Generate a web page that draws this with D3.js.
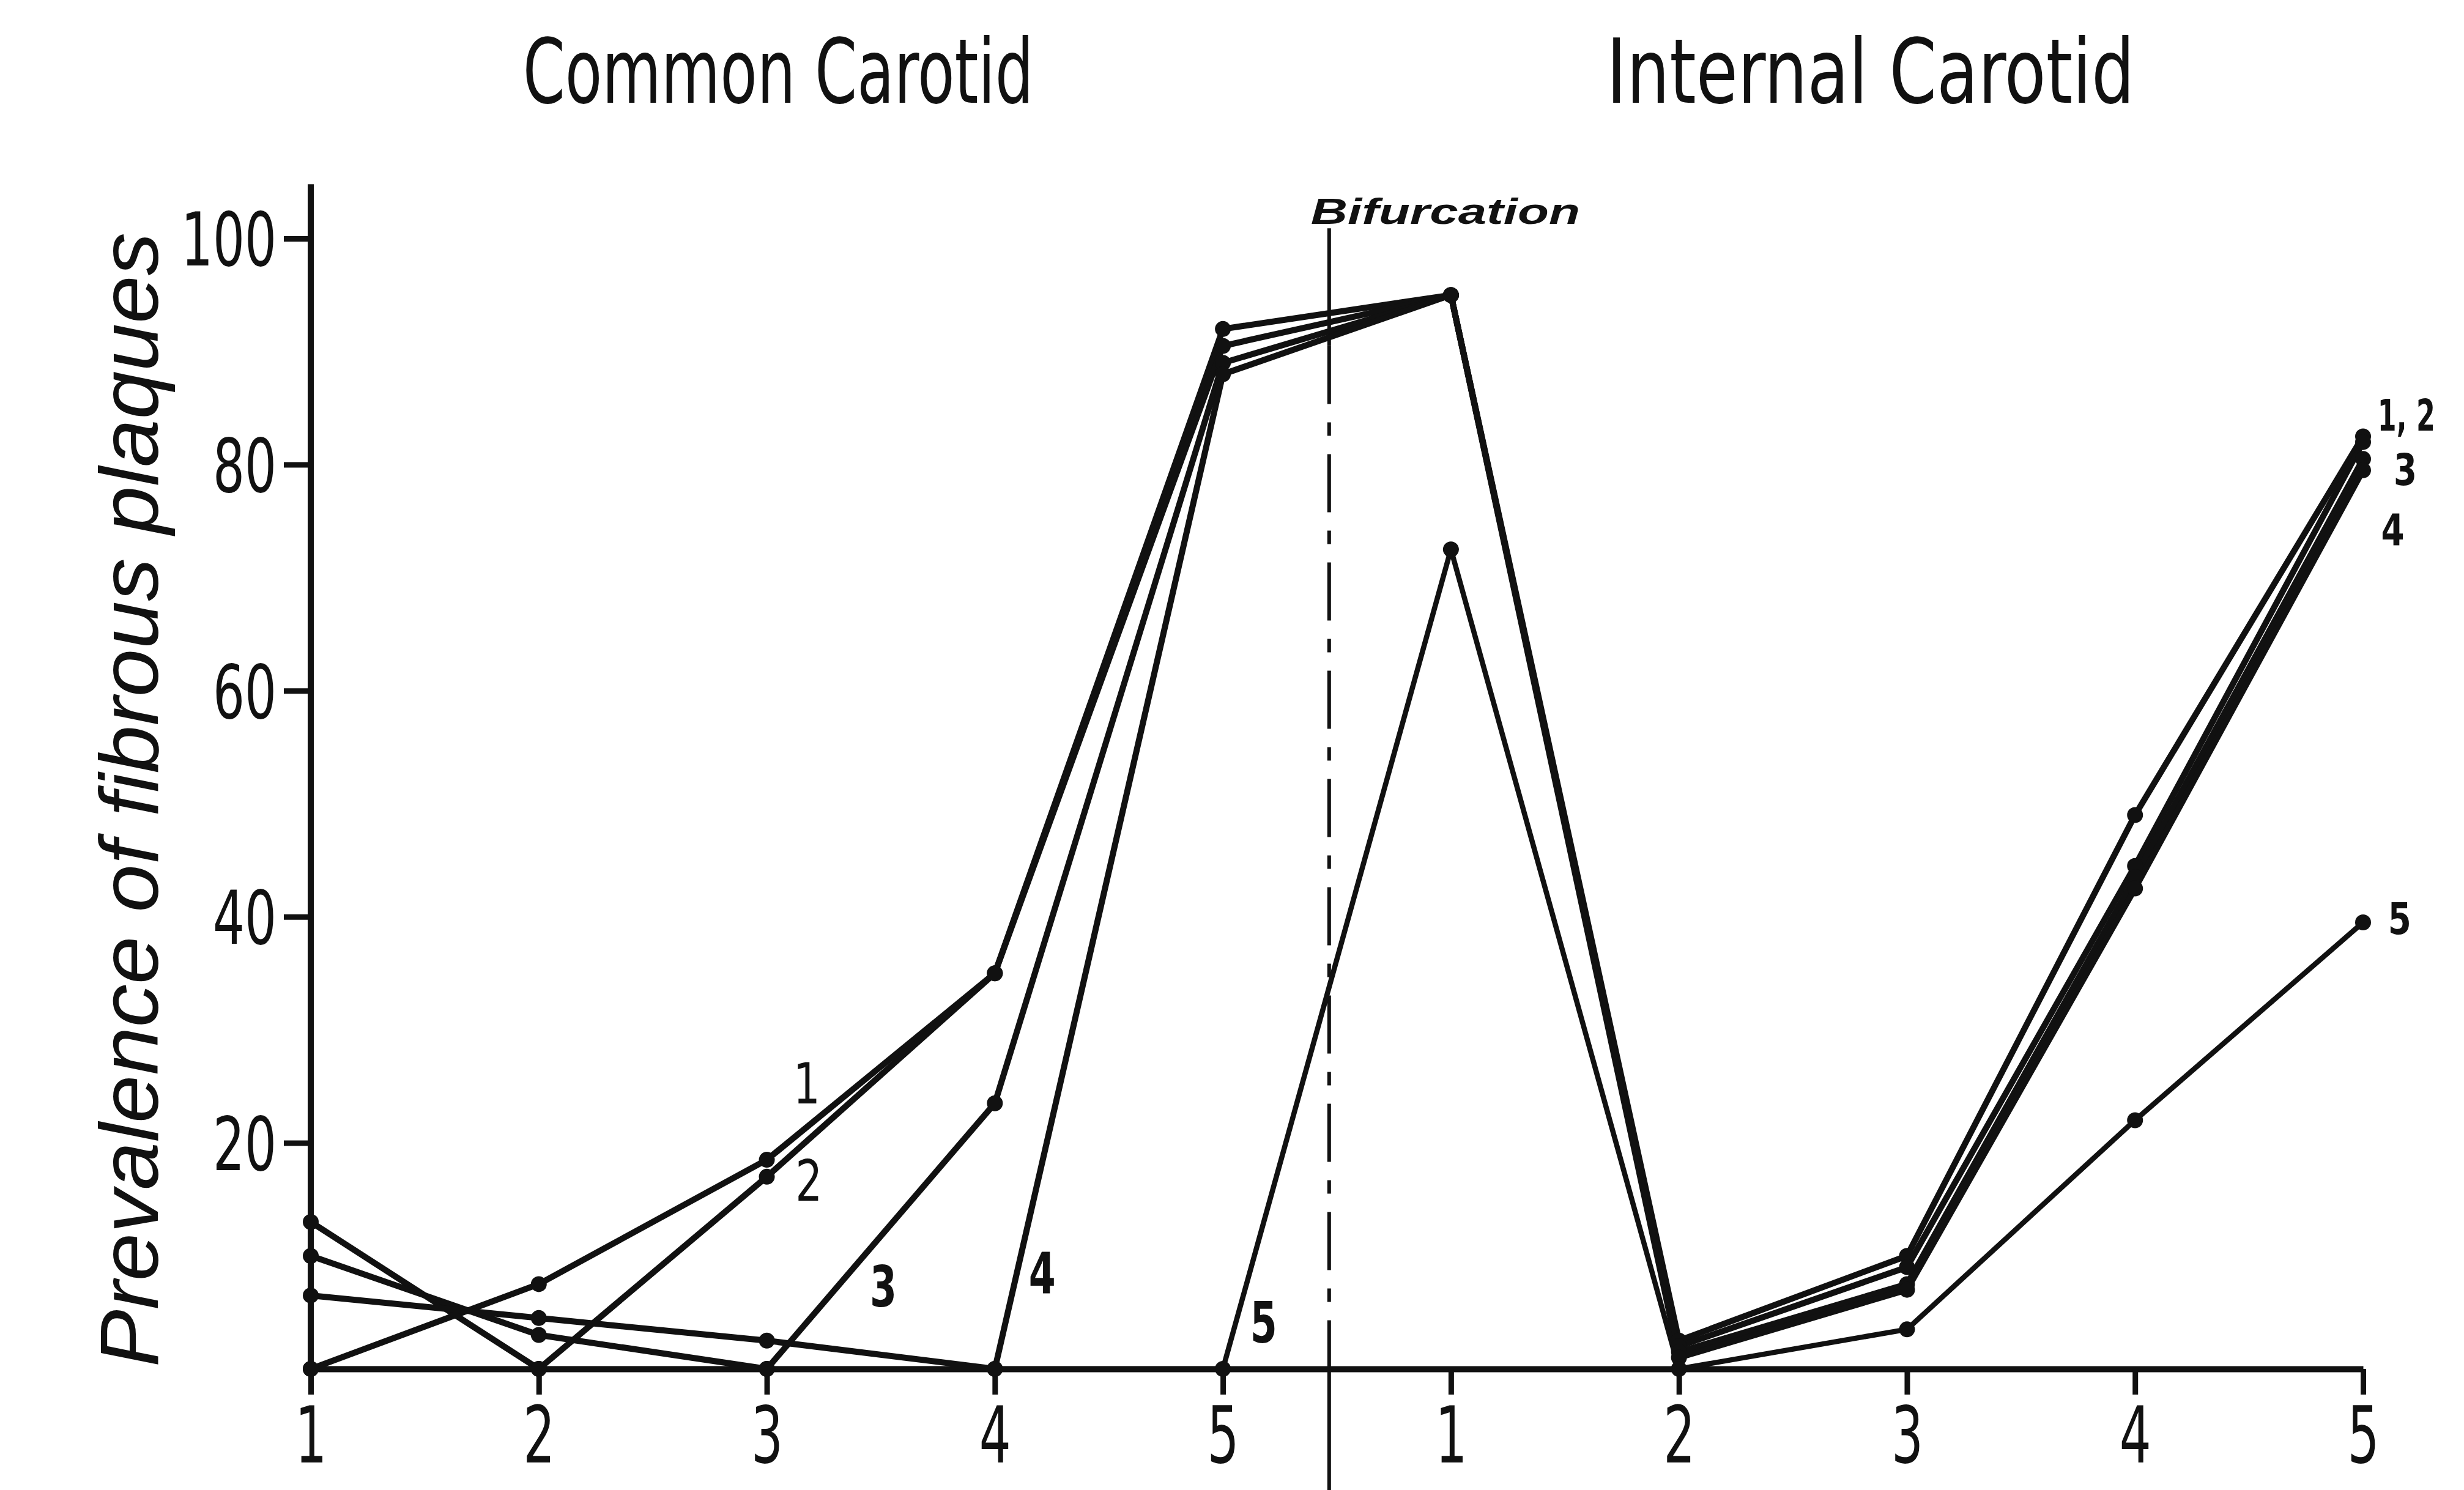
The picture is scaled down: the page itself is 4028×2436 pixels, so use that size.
<!DOCTYPE html>
<html>
<head>
<meta charset="utf-8">
<script src="https://cdn.jsdelivr.net/npm/d3@7"></script>
<style>
  html, body { margin: 0; padding: 0; background: #ffffff; }
  svg { display: block; }
  text { fill: #111; }
</style>
</head>
<body>
<div id="chart"></div>
<script>
// ---- Data ----
const tickLabels = ["1", "2", "3", "4", "5", "1", "2", "3", "4", "5"];
const segmentTitles = ["Common Carotid", "Internal Carotid"];
const yTicks = [20, 40, 60, 80, 100];
const seriesNames = ["1", "2", "3", "4", "5"];
// values at CC1..CC5, IC1..IC5
const series1 = [0, 7.5, 18.5, 35, 92, 95, 2.5, 10, 49, 82.5];
const series2 = [13, 0, 17, 35, 90.5, 95, 2, 9, 44.5, 82];
const series3 = [10, 3, 0, 23.5, 89, 95, 1.5, 7.5, 43.5, 80.5];
const series4 = [6.5, 4.5, 2.5, 0, 88, 95, 1, 7, 42.5, 79.5];
const series5 = [0, 0, 0, 0, 0, 72.5, 0, 3.5, 22, 39.5];
const allSeries = [series1, series2, series3, series4, series5];
// series annotation labels: [text, category position, value]
const labelTexts = ["1", "2", "3", "4", "5", "1, 2", "3", "4", "5"];
const labelPos = [2.175, 2.184, 2.511, 3.208, 4.179, 9.19, 9.185, 9.13, 9.16];
const labelVal = [25.3, 16.7, 7.3, 8.5, 4.1, 84.4, 79.6, 74.3, 39.9];
const labelBold = [false, false, true, true, true, true, true, true, true];
const labelIC = [false, false, false, false, false, true, true, true, true];
const bifurcationText = "Bifurcation";
const bifurcationPos = 4.466; // between CC5 and IC1
const yLabel = "Prevalence of fibrous plaques";

// ---- Layout ----
const W = 4028, H = 2436;
const svg = d3.select("#chart").append("svg")
  .attr("width", W).attr("height", H)
  .attr("viewBox", `0 0 ${W} ${H}`);
svg.append("rect").attr("width", W).attr("height", H).attr("fill", "#fff");

const x = d3.scaleLinear().domain([0, 9]).range([508, 3863]);
const y = d3.scaleLinear().domain([0, 100]).range([2238, 390]);
const FONT = "'DejaVu Sans Condensed', 'Liberation Sans Narrow', 'Liberation Sans', sans-serif";
const INK = "#111";

// x axis
const xAxis = svg.append("g")
  .attr("transform", `translate(0,${y(0)})`)
  .call(d3.axisBottom(x).tickValues(d3.range(10)).tickFormat(i => tickLabels[i])
    .tickSize(42).tickSizeOuter(0).tickPadding(20));
xAxis.select(".domain").attr("stroke", INK).attr("stroke-width", 10);
xAxis.selectAll(".tick line").attr("stroke", INK).attr("stroke-width", 9);
xAxis.selectAll(".tick text").attr("font-family", FONT).attr("font-size", 128).attr("fill", INK)
  .attr("textLength", 52).attr("lengthAdjust", "spacingAndGlyphs");

// y axis
const yAxis = svg.append("g")
  .attr("transform", `translate(${x(0)},0)`)
  .call(d3.axisLeft(y).tickValues(yTicks).tickSize(44).tickSizeOuter(0).tickPadding(12));
yAxis.select(".domain").remove();
yAxis.selectAll(".tick line").attr("stroke", INK).attr("stroke-width", 9);
yAxis.selectAll(".tick text").attr("font-family", FONT).attr("font-size", 122).attr("fill", INK)
  .attr("dy", "0.36em")
  .attr("textLength", d => String(d).length * 52)
  .attr("lengthAdjust", "spacingAndGlyphs");
svg.append("line")
  .attr("x1", x(0)).attr("x2", x(0))
  .attr("y1", y(104.8)).attr("y2", y(0) + 4)
  .attr("stroke", INK).attr("stroke-width", 10);

// bifurcation line
const bx = x(bifurcationPos);
svg.append("line").attr("x1", bx).attr("x2", bx)
  .attr("y1", y(100.9)).attr("y2", y(90.5))
  .attr("stroke", INK).attr("stroke-width", 6);
svg.append("line").attr("x1", bx).attr("x2", bx)
  .attr("y1", y(90.5)).attr("y2", y(0))
  .attr("stroke", INK).attr("stroke-width", 6)
  .attr("stroke-dasharray", "95,30,22,30");
svg.append("line").attr("x1", bx).attr("x2", bx)
  .attr("y1", y(0)).attr("y2", H)
  .attr("stroke", INK).attr("stroke-width", 6);
svg.append("text")
  .attr("x", bx - 30).attr("y", 366)
  .attr("font-family", "'Liberation Sans', sans-serif")
  .attr("font-style", "italic").attr("font-weight", "bold")
  .attr("font-size", 60)
  .attr("textLength", 440).attr("lengthAdjust", "spacingAndGlyphs")
  .text(bifurcationText);

// data lines
const line = d3.line().x((d, i) => x(i)).y(d => y(d));
svg.append("g").selectAll("path").data(allSeries).join("path")
  .attr("d", d => line(d))
  .attr("fill", "none")
  .attr("stroke", INK)
  .attr("stroke-width", (d, i) => i === 4 ? 8.5 : 10)
  .attr("stroke-linejoin", "round");

// markers
svg.append("g").selectAll("g").data(allSeries).join("g")
  .selectAll("circle").data(d => d).join("circle")
  .attr("cx", (d, i) => x(i)).attr("cy", d => y(d))
  .attr("r", 13).attr("fill", INK);

// series labels
svg.append("g").selectAll("text").data(labelTexts).join("text")
  .attr("x", (d, i) => x(labelPos[i]))
  .attr("y", (d, i) => y(labelVal[i]))
  .attr("dy", "0.36em")
  .attr("text-anchor", "middle")
  .attr("font-family", FONT)
  .attr("font-weight", (d, i) => labelBold[i] ? "bold" : "normal")
  .attr("font-size", (d, i) => labelIC[i] ? 72 : 92)
  .attr("textLength", (d, i) => d.length > 1 ? 94 : (labelIC[i] ? 38 : 44))
  .attr("lengthAdjust", "spacingAndGlyphs")
  .text(d => d);

// segment titles
const titleCenters = [2.05, 6.84];
const titleLengths = [835, 863];
svg.append("g").selectAll("text").data(segmentTitles).join("text")
  .attr("x", (d, i) => x(titleCenters[i]))
  .attr("y", 168)
  .attr("text-anchor", "middle")
  .attr("font-family", FONT)
  .attr("font-size", 146)
  .attr("textLength", (d, i) => titleLengths[i])
  .attr("lengthAdjust", "spacingAndGlyphs")
  .text(d => d);

// y label
svg.append("text")
  .attr("transform", `translate(258,${(380 + 2235) / 2}) rotate(-90)`)
  .attr("text-anchor", "middle")
  .attr("font-family", "'Liberation Sans', sans-serif")
  .attr("font-style", "italic")
  .attr("font-size", 136)
  .attr("textLength", 1855)
  .attr("lengthAdjust", "spacingAndGlyphs")
  .text(yLabel);
</script>
</body>
</html>
